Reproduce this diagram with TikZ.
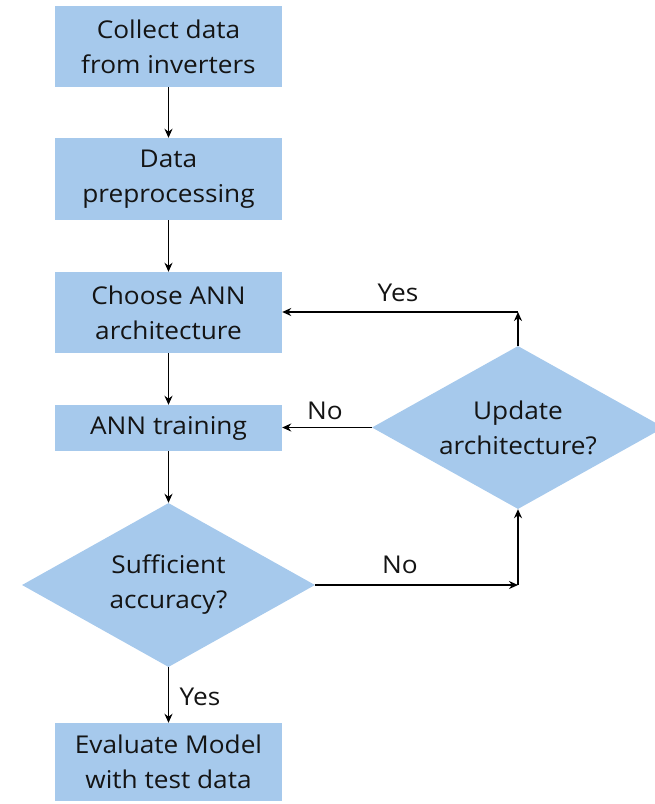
\documentclass[tikz,border=0pt]{standalone}
\usepackage{fontspec}
\setmainfont{Open Sans}[FakeStretch=1.07]
\usetikzlibrary{shapes.geometric,arrows.meta}
\definecolor{boxblue}{RGB}{166,201,236}
\definecolor{txt}{RGB}{20,20,20}
\tikzset{
  procbox/.style={rectangle, fill=boxblue, minimum width=227pt, inner sep=0pt, align=center, text=txt, font=\fontsize{24.5}{35}\selectfont},
  decision/.style={diamond, fill=boxblue, inner sep=0pt},
  dtext/.style={align=center, inner sep=0pt, text=txt, font=\fontsize{24.5}{35}\selectfont},
  flow/.style={line width=1.7pt, -{Stealth[length=9pt,width=8pt]}},
  lbl/.style={font=\fontsize{24.5}{28}\selectfont, text=txt, inner sep=0pt}
}
\begin{document}
\begin{tikzpicture}[x=1pt,y=1pt]
\useasboundingbox (0,0) rectangle (654,-804);
\node[procbox, minimum height=81pt] (b1) at (168.5,-46.5) {Collect data\\from inverters};
\node[procbox, minimum height=82pt] (b2) at (168.5,-179) {Data\\preprocessing};
\node[procbox, minimum height=81pt] (b3) at (168.5,-312.5) {Choose ANN\\architecture};
\node[procbox, minimum height=46pt] (b4) at (168.5,-428) {ANN training};
\node[decision, minimum width=293pt, minimum height=164pt] (d1) at (168.5,-585) {};
\node[dtext] (d1t) at (d1.center) {Sufficient\\accuracy?};
\node[procbox, minimum height=78pt] (b5) at (168.5,-762) {Evaluate Model\\with test data};
\node[decision, minimum width=292pt, minimum height=163pt] (d2) at (518,-427.5) {};
\node[dtext] (d2t) at (d2.center) {Update\\architecture?};
\coordinate (c1) at (518,-585);
\coordinate (c2) at (518,-312);
\draw[flow] (b1) -- (b2);
\draw[flow] (b2) -- (b3);
\draw[flow] (b3) -- (b4);
\draw[flow] (b4) -- (d1);
\draw[flow] (d1) -- (b5);
\draw[flow] (d1.east) -- (c1);
\draw[flow] (c1) -- (d2.south);
\draw[flow] (d2.north) -- (c2);
\draw[flow] (c2) -- (c2 -| b3.east);
\draw[flow] (d2.west) -- (d2.west -| b4.east);
\node[lbl] (y1) at (398,-293) {Yes};
\node[lbl] (n1) at (325,-411) {No};
\node[lbl] (n2) at (400,-565) {No};
\node[lbl] (y2) at (200,-697) {Yes};
\end{tikzpicture}
\end{document}
